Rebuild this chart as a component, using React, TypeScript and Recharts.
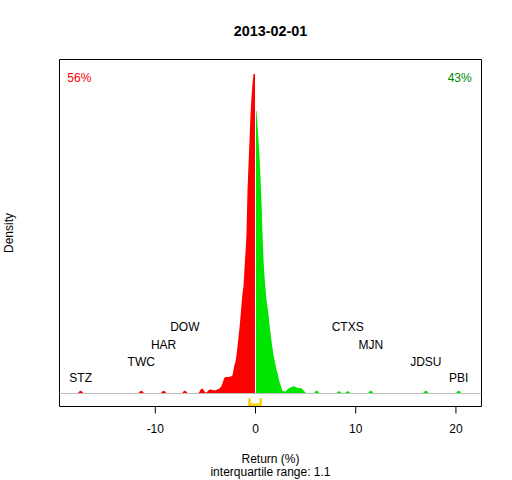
import React from 'react';
import {
  ComposedChart,
  Area,
  XAxis,
  YAxis,
  ReferenceLine,
  ReferenceArea,
  Scatter,
} from 'recharts';

// ---- data ----
const chartTitle = '2013-02-01';
const xAxisTitle = 'Return (%)';
const iqrText = 'interquartile range: 1.1';
const yAxisTitle = 'Density';
const shareBelowZero = '56%';
const shareAboveZero = '43%';

const redReturns = [
  -18.0, -17.75, -17.6, -17.45, -17.3, -17.15,
  -11.7, -11.55, -11.4, -11.25, -11.1,
  -9.47, -9.32, -9.17, -9.02, -8.87,
  -7.35, -7.2, -7.05, -6.9, -6.75,
  -5.75, -5.6, -5.45, -5.32, -5.18, -5.03, -4.88, -4.73, -4.58, -4.43, -4.28, -4.13,
  -3.99, -3.79, -3.59, -3.44, -3.29, -3.14, -3.0, -2.69, -2.4, -2.3, -2.2, -2.1,
  -2.0, -1.9, -1.8, -1.7, -1.6, -1.5, -1.4, -1.3, -1.2, -1.1, -1.0, -0.9, -0.8,
  -0.7, -0.6, -0.5, -0.4, -0.3, -0.2, -0.1, -0.05,
];
const redDensity = [
  0, 0, 0.006, 0.0085, 0.006, 0,
  0, 0.006, 0.0085, 0.006, 0,
  0, 0.006, 0.0085, 0.006, 0,
  0, 0.006, 0.0085, 0.006, 0,
  0, 0.005, 0.013, 0.016, 0.011, 0.004, 0.003, 0.009, 0.012, 0.013, 0.01, 0.011,
  0.009, 0.013, 0.016, 0.021, 0.032, 0.048, 0.052, 0.052, 0.054, 0.057, 0.073, 0.089,
  0.099, 0.12, 0.146, 0.177, 0.205, 0.24, 0.277, 0.314, 0.335, 0.391, 0.442, 0.5, 0.637,
  0.715, 0.793, 0.872, 0.927, 0.971, 1.0, 1.0, 1.0,
];

const greenReturns = [
  0.05, 0.1, 0.2, 0.3, 0.4, 0.5, 0.6, 0.7, 0.8, 0.9, 1.0, 1.1, 1.2, 1.3, 1.4, 1.5,
  1.6, 1.7, 1.8, 1.9, 2.0, 2.1, 2.2, 2.3, 2.4, 2.5, 2.6, 2.7, 2.9, 3.0, 3.2, 3.4,
  3.6, 3.8, 4.0, 4.2, 4.4, 4.6, 4.8, 5.0, 5.15,
  5.8, 5.95, 6.1, 6.25, 6.4,
  8.03, 8.18, 8.33, 8.48, 8.63,
  8.9, 9.05, 9.2, 9.35, 9.5,
  11.2, 11.35, 11.5, 11.65, 11.8,
  16.7, 16.85, 17.0, 17.15, 17.3,
  19.97, 20.12, 20.27, 20.42, 20.57, 21.0,
];
const greenDensity = [
  0.884, 0.884, 0.84, 0.793, 0.74, 0.674, 0.596, 0.496, 0.418, 0.365, 0.327, 0.292,
  0.271, 0.245, 0.214, 0.189, 0.162, 0.142, 0.12, 0.104, 0.089, 0.073, 0.064, 0.048,
  0.036, 0.026, 0.017, 0.008, 0.007, 0.006, 0.013, 0.017, 0.02, 0.023, 0.02, 0.017,
  0.017, 0.016, 0.009, 0.002, 0,
  0, 0.006, 0.0085, 0.006, 0,
  0, 0.005, 0.0075, 0.005, 0,
  0, 0.005, 0.0075, 0.005, 0,
  0, 0.006, 0.0085, 0.006, 0,
  0, 0.006, 0.0085, 0.006, 0,
  0, 0.006, 0.0085, 0.006, 0, 0,
];

const outlierNames = ['STZ', 'TWC', 'HAR', 'DOW', 'CTXS', 'MJN', 'JDSU', 'PBI'];
const outlierReturns = [-17.45, -11.4, -9.17, -7.05, 9.2, 11.5, 17.0, 20.27];
const outlierLabelLevels = [0.05, 0.1, 0.154, 0.208, 0.208, 0.154, 0.1, 0.05];

const xTicks = [-10, 0, 10, 20];
const quartiles = [-0.6, 0.52];

// ---- layout / styling ----
const X_DOMAIN: [number, number] = [-19.56, 22.55];
const Y_DOMAIN: [number, number] = [-0.0407, 1.0454];
const FONT = '"Liberation Sans", Arial, Helvetica, sans-serif';
const RED = '#FF0000';
const GREEN = '#00E500';
const DARK_GREEN = '#008B00';
const GOLD = '#FFD200';

const densityData = [
  ...redReturns.map((x, i) => ({ x, red: redDensity[i] as number | null, green: null as number | null })),
  ...greenReturns.map((x, i) => ({ x, red: null as number | null, green: greenDensity[i] as number | null })),
];

const labelData = outlierNames.map((name, i) => ({
  x: outlierReturns[i],
  y: outlierLabelLevels[i],
  name,
}));

const LabelShape = (props: any) => (
  <text
    x={props.cx}
    y={props.cy}
    dy={4.3}
    textAnchor="middle"
    fontSize={12}
    fontFamily={FONT}
    fill="#000"
  >
    {props.payload?.name ?? props.name}
  </text>
);

export default function App() {
  const bracketTop = -0.019;
  const bracketBottom = -0.035;
  return (
    <div style={{ position: 'absolute', left: 0, top: 0, width: 512, height: 480, background: '#fff', fontFamily: FONT }}>
      <ComposedChart
        width={512}
        height={480}
        data={densityData}
        margin={{ top: 59.5, right: 30.5, bottom: 43.5, left: 59.5 }}
      >
        <XAxis
          type="number"
          dataKey="x"
          domain={X_DOMAIN}
          allowDataOverflow
          ticks={xTicks}
          interval={0}
          tickSize={7}
          tickMargin={10.5}
          axisLine={false}
          tickLine={{ stroke: '#000' }}
          tick={{ fill: '#000', fontSize: 12, fontFamily: FONT }}
          height={30}
        />
        <YAxis type="number" domain={Y_DOMAIN} allowDataOverflow hide />
        <ReferenceLine y={0} stroke="#BEBEBE" strokeWidth={1} ifOverflow="visible" />
        <Area
          type="linear"
          dataKey="red"
          stroke="none"
          fill={RED}
          fillOpacity={1}
          baseValue={0}
          connectNulls={false}
          isAnimationActive={false}
          dot={false}
          activeDot={false}
        />
        <Area
          type="linear"
          dataKey="green"
          stroke="none"
          fill={GREEN}
          fillOpacity={1}
          baseValue={0}
          connectNulls={false}
          isAnimationActive={false}
          dot={false}
          activeDot={false}
        />
        <Scatter
          data={labelData}
          dataKey="y"
          shape={LabelShape}
          isAnimationActive={false}
        />
        <ReferenceLine
          segment={[{ x: quartiles[0], y: bracketTop }, { x: quartiles[0], y: bracketBottom }]}
          stroke={GOLD}
          strokeWidth={2.5}
          strokeLinecap="square"
          ifOverflow="visible"
        />
        <ReferenceLine
          segment={[{ x: quartiles[1], y: bracketTop }, { x: quartiles[1], y: bracketBottom }]}
          stroke={GOLD}
          strokeWidth={2.5}
          strokeLinecap="square"
          ifOverflow="visible"
        />
        <ReferenceLine
          segment={[{ x: quartiles[0], y: bracketBottom }, { x: quartiles[1], y: bracketBottom }]}
          stroke={GOLD}
          strokeWidth={2.5}
          strokeLinecap="square"
          ifOverflow="visible"
        />
        <ReferenceArea
          x1={X_DOMAIN[0]}
          x2={X_DOMAIN[1]}
          y1={Y_DOMAIN[0]}
          y2={Y_DOMAIN[1]}
          fill="none"
          fillOpacity={0}
          stroke="#000"
          strokeWidth={1}
          ifOverflow="visible"
        />
      </ComposedChart>
      <svg
        width={512}
        height={480}
        style={{ position: 'absolute', left: 0, top: 0, pointerEvents: 'none' }}
      >
        <text x={270.5} y={35.5} textAnchor="middle" fontSize={14.4} fontWeight="bold" fontFamily={FONT} fill="#000">
          {chartTitle}
        </text>
        <text x={67.3} y={82.3} textAnchor="start" fontSize={12} fontFamily={FONT} fill={RED}>
          {shareBelowZero}
        </text>
        <text x={471.7} y={82.3} textAnchor="end" fontSize={12} fontFamily={FONT} fill={DARK_GREEN}>
          {shareAboveZero}
        </text>
        <text
          x={12.6}
          y={233}
          textAnchor="middle"
          fontSize={12}
          fontFamily={FONT}
          fill="#000"
          transform="rotate(-90 12.6 233)"
        >
          {yAxisTitle}
        </text>
        <text x={270.5} y={462.5} textAnchor="middle" fontSize={12} fontFamily={FONT} fill="#000">
          {xAxisTitle}
        </text>
        <text x={270.5} y={475.8} textAnchor="middle" fontSize={12} fontFamily={FONT} fill="#000">
          {iqrText}
        </text>
      </svg>
    </div>
  );
}
